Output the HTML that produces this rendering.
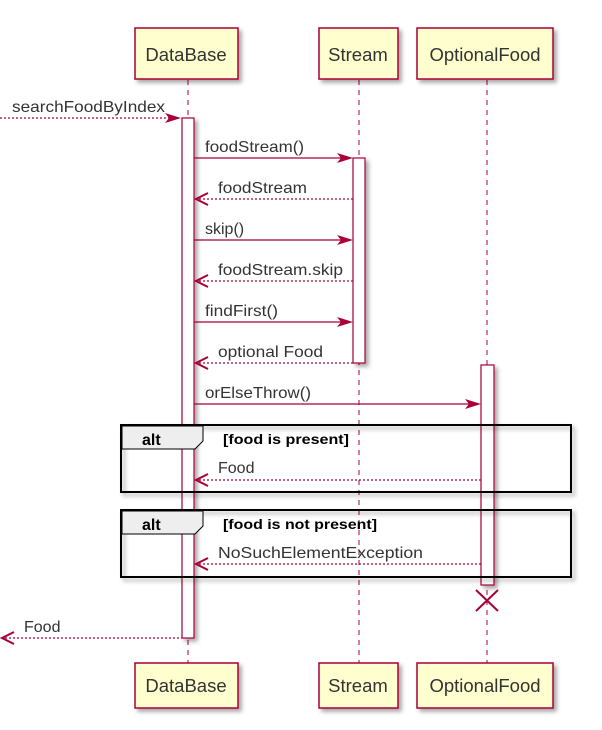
<!DOCTYPE html>
<html><head><style>body{margin:0;background:#fff}svg{display:block}</style></head><body>
<svg width="602" height="730" xmlns="http://www.w3.org/2000/svg" font-family="Liberation Sans, sans-serif">
<defs>
<filter id="sh" x="-10%" y="-10%" width="130%" height="140%"><feDropShadow dx="3" dy="3" stdDeviation="2" flood-color="#000" flood-opacity="0.35"/></filter>
</defs>
<g stroke="#A80036" stroke-width="1" stroke-dasharray="5,5">
<line x1="188" y1="80" x2="188" y2="663"/>
<line x1="359" y1="80" x2="359" y2="663"/>
<line x1="487" y1="80" x2="487" y2="663"/>
</g>
<g fill="#FEFECE" stroke="#A80036" stroke-width="1.5" filter="url(#sh)">
<rect x="135" y="28" width="103" height="51"/>
<rect x="319" y="28" width="79" height="51"/>
<rect x="417" y="28" width="136" height="51"/>
<rect x="135" y="663" width="103" height="45"/>
<rect x="319" y="663" width="79" height="45"/>
<rect x="417" y="663" width="136" height="45"/>
</g>
<g font-size="18.5" fill="#333" text-anchor="middle">
<text x="186" y="61">DataBase</text><text x="358" y="61">Stream</text><text x="485" y="61">OptionalFood</text>
<text x="186" y="692">DataBase</text><text x="358" y="692">Stream</text><text x="485" y="692">OptionalFood</text>
</g>
<g fill="#fff" stroke="#A80036" stroke-width="1.2" filter="url(#sh)">
<rect x="182" y="118" width="12" height="520"/>
<rect x="353" y="158" width="12" height="205"/>
<rect x="481" y="365" width="13" height="220"/>
</g>
<g filter="url(#sh)">
<rect x="121" y="425" width="450" height="67" fill="none" stroke="#000" stroke-width="2"/>
<rect x="121" y="510" width="450" height="67" fill="none" stroke="#000" stroke-width="2"/>
</g>
<path d="M122,426 H203 V441 L195,449 H122 Z" fill="#EEEEEE" stroke="#000" stroke-width="1"/>
<path d="M122,511 H203 V526 L195,534 H122 Z" fill="#EEEEEE" stroke="#000" stroke-width="1"/>
<g font-size="16" font-weight="bold" fill="#000">
<text x="142" y="445">alt</text><text x="142" y="530">alt</text>
<text font-size="14" x="223" y="444" textLength="126" lengthAdjust="spacingAndGlyphs">[food is present]</text>
<text font-size="14" x="223" y="529" textLength="154" lengthAdjust="spacingAndGlyphs">[food is not present]</text>
</g>
<g stroke="#A80036" stroke-width="1.2" fill="none">
<line x1="0" y1="118" x2="178" y2="118" stroke-dasharray="2,2"/>
<line x1="194" y1="158" x2="350" y2="158"/>
<line x1="199" y1="199" x2="353" y2="199" stroke-dasharray="2,2"/>
<line x1="194" y1="240" x2="350" y2="240"/>
<line x1="199" y1="281" x2="353" y2="281" stroke-dasharray="2,2"/>
<line x1="194" y1="322" x2="350" y2="322"/>
<line x1="199" y1="363" x2="353" y2="363" stroke-dasharray="2,2"/>
<line x1="194" y1="404" x2="478" y2="404"/>
<line x1="199" y1="480" x2="481" y2="480" stroke-dasharray="2,2"/>
<line x1="199" y1="564" x2="481" y2="564" stroke-dasharray="2,2"/>
<line x1="5" y1="638" x2="182" y2="638" stroke-dasharray="2,2"/>
<path d="M476,590 L498,611 M498,590 L476,611" stroke-width="2"/>
</g>
<g fill="#A80036">
<path d="M181,118 l-16,-5 l4,5 l-4,5 z"/>
<path d="M353,158 l-16,-5 l4,5 l-4,5 z"/>
<path d="M353,240 l-16,-5 l4,5 l-4,5 z"/>
<path d="M353,322 l-16,-5 l4,5 l-4,5 z"/>
<path d="M481,404 l-16,-5 l4,5 l-4,5 z"/>
</g>
<g stroke="#A80036" stroke-width="2" fill="none">
<path d="M208,193 l-12,6 l12,6"/>
<path d="M208,275 l-12,6 l12,6"/>
<path d="M208,357 l-12,6 l12,6"/>
<path d="M208,474 l-12,6 l12,6"/>
<path d="M208,558 l-12,6 l12,6"/>
<path d="M14,632 l-12,6 l12,6"/>
</g>
<g font-size="16" fill="#333" lengthAdjust="spacingAndGlyphs">
<text x="12" y="112" textLength="153" lengthAdjust="spacingAndGlyphs">searchFoodByIndex</text>
<text x="205" y="152" textLength="99" lengthAdjust="spacingAndGlyphs">foodStream()</text>
<text x="218" y="193" textLength="89" lengthAdjust="spacingAndGlyphs">foodStream</text>
<text x="205" y="234">skip()</text>
<text x="218" y="275" textLength="125" lengthAdjust="spacingAndGlyphs">foodStream.skip</text>
<text x="205" y="316" textLength="73" lengthAdjust="spacingAndGlyphs">findFirst()</text>
<text x="218" y="357" textLength="105" lengthAdjust="spacingAndGlyphs">optional Food</text>
<text x="205" y="398" textLength="106" lengthAdjust="spacingAndGlyphs">orElseThrow()</text>
<text x="218" y="473">Food</text>
<text x="218" y="558" textLength="205" lengthAdjust="spacingAndGlyphs">NoSuchElementException</text>
<text x="24" y="632">Food</text>
</g>
</svg>
</body></html>
